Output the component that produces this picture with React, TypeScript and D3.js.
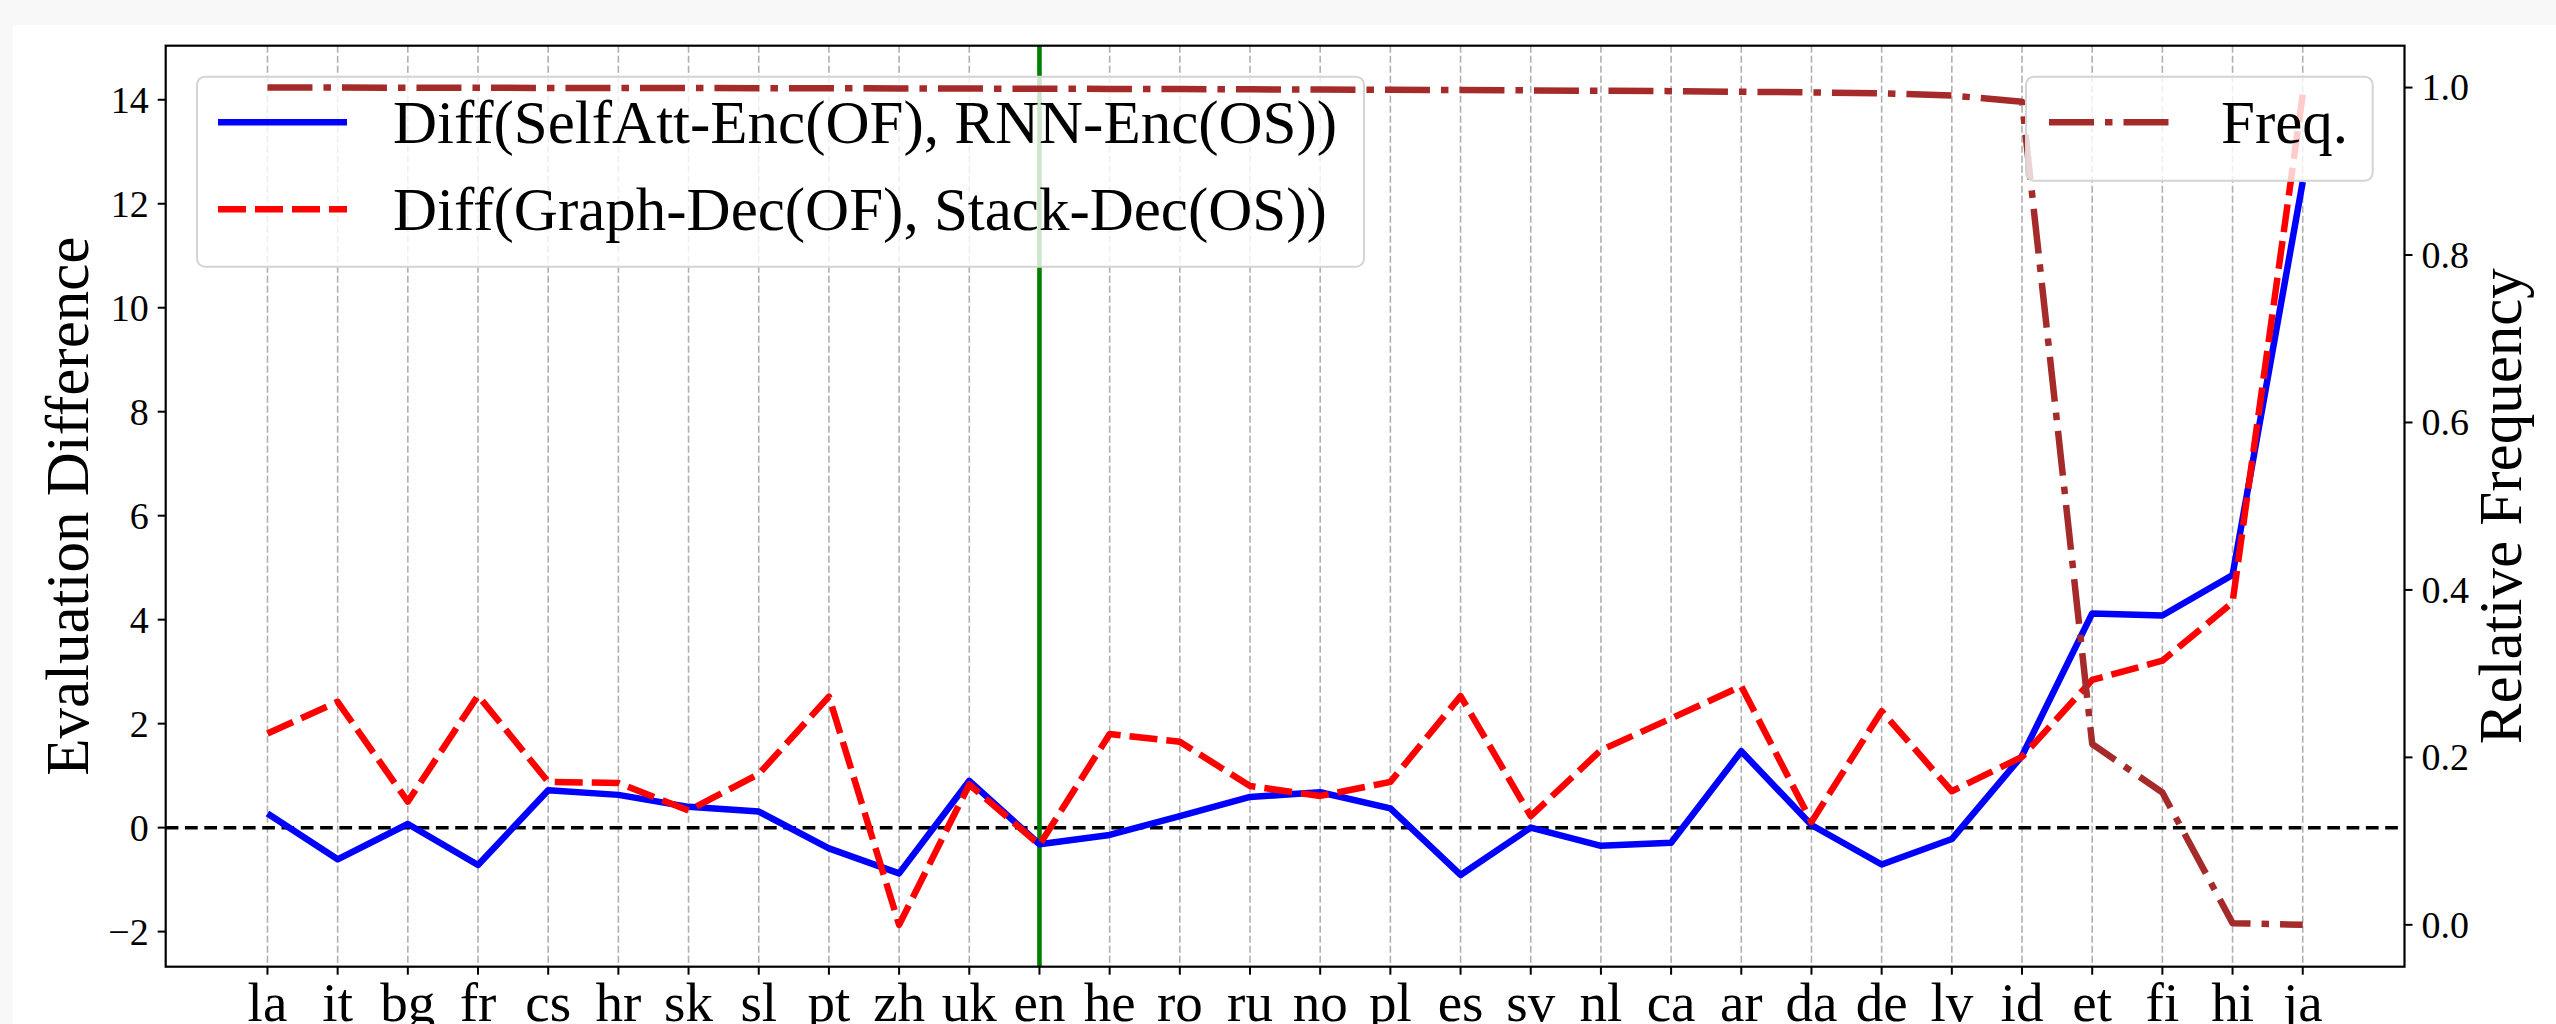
import React from 'react';
import * as d3 from 'd3';

// languages on the x axis
const languages = ['la', 'it', 'bg', 'fr', 'cs', 'hr', 'sk', 'sl', 'pt', 'zh', 'uk', 'en', 'he', 'ro', 'ru', 'no', 'pl', 'es', 'sv', 'nl', 'ca', 'ar', 'da', 'de', 'lv', 'id', 'et', 'fi', 'hi', 'ja'];

// Diff(SelfAtt-Enc(OF), RNN-Enc(OS))
const encDiff = [0.27, -0.61, 0.07, -0.72, 0.72, 0.63, 0.4, 0.31, -0.4, -0.88, 0.9, -0.32, -0.14, 0.22, 0.59, 0.68, 0.37, -0.91, 0.0, -0.35, -0.29, 1.47, 0.05, -0.71, -0.22, 1.38, 4.12, 4.08, 4.86, 12.42];

// Diff(Graph-Dec(OF), Stack-Dec(OS))
const decDiff = [1.81, 2.42, 0.5, 2.54, 0.88, 0.86, 0.33, 1.03, 2.52, -1.87, 0.83, -0.33, 1.8, 1.65, 0.8, 0.61, 0.88, 2.53, 0.22, 1.49, 2.1, 2.72, 0.11, 2.24, 0.7, 1.36, 2.84, 3.21, 4.33, 14.1];

// relative frequency (right axis)
const freq = [1.0, 1.0, 0.9998, 0.9997, 0.9996, 0.9995, 0.9994, 0.9993, 0.9992, 0.999, 0.9988, 0.9986, 0.9984, 0.9982, 0.9979, 0.9976, 0.9973, 0.997, 0.9966, 0.9962, 0.9957, 0.995, 0.9942, 0.9932, 0.9905, 0.983, 0.216, 0.158, 0.002, 0.0];

const leftTicks = [-2, 0, 2, 4, 6, 8, 10, 12, 14];
const rightTicks = [0.0, 0.2, 0.4, 0.6, 0.8, 1.0];
const splitLang = 'en';

const W = 2556;
const H = 1024;
const left = 165.7;
const right = 2404.5;
const top = 45.7;
const bottom = 966.7;
const serif = '"Liberation Serif", "Times New Roman", "DejaVu Serif", serif';

export default function App() {
  const idx = languages.map((_, i) => i);
  const x = d3.scaleLinear().domain([-1.45, languages.length - 1 + 1.45]).range([left, right]);
  const y = d3.scaleLinear().domain([-2.675, 15.04]).range([bottom, top]);
  const y2 = d3.scaleLinear().domain([-0.05, 1.05]).range([bottom, top]);

  const line = d3.line<number>().x((d, i) => x(i)).y((d) => y(d));
  const line2 = d3.line<number>().x((d, i) => x(i)).y((d) => y2(d));

  const xSplit = x(languages.indexOf(splitLang));
  const fmt = (v: number) => (v < 0 ? '\u2212' + Math.abs(v) : String(v));
  const txt = { fontFamily: serif, fill: '#000' };

  return (
    <svg width={W} height={H} style={{ position: 'fixed', left: 0, top: 0, display: 'block' }}>
      <rect x={0} y={0} width={W} height={H} fill="#f8f8f8" />
      <rect x={12.7} y={25} width={W} height={H} fill="#ffffff" />

      {/* vertical grid */}
      {idx.map((i) => (
        <line key={'g' + i} x1={x(i)} x2={x(i)} y1={top} y2={bottom} stroke="#b0b0b0" strokeWidth={1.6} strokeDasharray="7,3" />
      ))}

      {/* zero line */}
      <line x1={left} x2={right} y1={y(0)} y2={y(0)} stroke="#000" strokeWidth={3.5} strokeDasharray="12.7,6.6" />

      {/* split line at en */}
      <line x1={xSplit} x2={xSplit} y1={top} y2={bottom} stroke="#008000" strokeWidth={4.6} />

      <path d={line(encDiff) || ''} fill="none" stroke="#0000ff" strokeWidth={6.5} strokeLinejoin="round" />
      <path d={line(decDiff) || ''} fill="none" stroke="#ff0000" strokeWidth={6.5} strokeLinejoin="round" strokeDasharray="28,9" />

      {/* legend for left axis */}
      <g>
        <rect x={197} y={76.7} width={1364 - 197} height={266.7 - 76.7} rx={8} fill="#ffffff" fillOpacity={0.8} stroke="#d4d4d4" strokeWidth={2} />
        <line x1={218} x2={347} y1={122.3} y2={122.3} stroke="#0000ff" strokeWidth={6.5} />
        <text x={393} y={143.3} fontSize={61} style={txt}>Diff(SelfAtt-Enc(OF), RNN-Enc(OS))</text>
        <line x1={218} x2={347} y1={209.3} y2={209.3} stroke="#ff0000" strokeWidth={6.5} strokeDasharray="28,9" />
        <text x={393} y={230} fontSize={61} style={txt}>Diff(Graph-Dec(OF), Stack-Dec(OS))</text>
      </g>

      {/* frequency on twin axis */}
      <path d={line2(freq) || ''} fill="none" stroke="#a52a2a" strokeWidth={6.5} strokeLinejoin="round" strokeDasharray="45,11,7.5,11" />

      <g>
        <rect x={2026} y={76.7} width={2372.7 - 2026} height={180.7 - 76.7} rx={8} fill="#ffffff" fillOpacity={0.8} stroke="#d4d4d4" strokeWidth={2} />
        <line x1={2049} x2={2169} y1={122.3} y2={122.3} stroke="#a52a2a" strokeWidth={6.5} strokeDasharray="45,11,7.5,11" />
        <text x={2221} y={143.3} fontSize={61} style={txt}>Freq.</text>
      </g>

      {/* frame */}
      <rect x={left} y={top} width={right - left} height={bottom - top} fill="none" stroke="#000" strokeWidth={2.2} />

      {/* left axis */}
      {leftTicks.map((t) => (
        <g key={'l' + t}>
          <line x1={left - 8} x2={left} y1={y(t)} y2={y(t)} stroke="#000" strokeWidth={2} />
          <text x={left - 17} y={y(t)} dy="0.34em" fontSize={38} textAnchor="end" style={txt}>{fmt(t)}</text>
        </g>
      ))}
      <text transform={`translate(88,${(top + bottom) / 2}) rotate(-90)`} fontSize={61} textAnchor="middle" style={txt}>Evaluation Difference</text>

      {/* right axis */}
      {rightTicks.map((t) => (
        <g key={'r' + t}>
          <line x1={right} x2={right + 8} y1={y2(t)} y2={y2(t)} stroke="#000" strokeWidth={2} />
          <text x={right + 17} y={y2(t)} dy="0.34em" fontSize={38} style={txt}>{t.toFixed(1)}</text>
        </g>
      ))}
      <text transform={`translate(2521,${(top + bottom) / 2}) rotate(-90)`} fontSize={61} textAnchor="middle" style={txt}>Relative Frequency</text>

      {/* x axis */}
      {languages.map((l, i) => (
        <g key={'x' + l}>
          <line x1={x(i)} x2={x(i)} y1={bottom} y2={bottom + 8} stroke="#000" strokeWidth={2} />
          <text x={x(i)} y={1021} fontSize={55} textAnchor="middle" style={txt}>{l}</text>
        </g>
      ))}
    </svg>
  );
}
